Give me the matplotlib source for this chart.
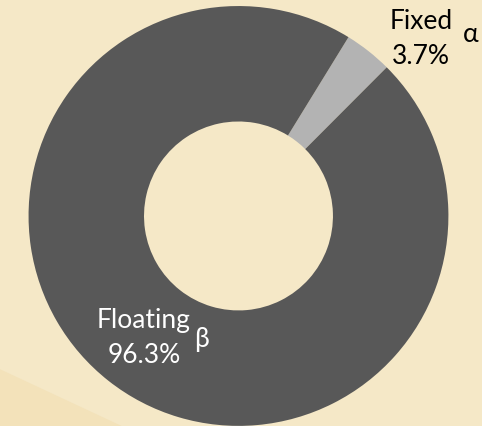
import matplotlib.pyplot as plt
from matplotlib.patches import Polygon

# data
labels = ['Fixed', 'Floating']
shares = [3.7, 96.3]
tags = ['α', 'β']
colors = ['#B3B3B3', '#585858']

bg = '#F5E8C7'

fig = plt.figure(figsize=(4.82, 4.27), dpi=100, facecolor=bg)
ax = fig.add_axes([0, 0, 1, 1])
ax.set_facecolor(bg)

# subtle darker band in lower-left corner of the slide background
ax.add_patch(Polygon([(-1.2, -0.70), (-0.45, -1.05), (-1.2, -1.05)],
                     closed=True, facecolor='#F3E2BA', edgecolor='none', zorder=0))

ax.pie(shares, colors=colors, startangle=58.4, counterclock=False,
       radius=1.0, wedgeprops=dict(width=0.55, edgecolor='none'))

ax.set_xlim(-1.136, 1.160)
ax.set_ylim(-1.0, 1.033)
ax.set_aspect('equal')
ax.axis('off')

font = 'Lato'
fs = 19
# Fixed label (outside, dark text)
ax.text(0.869, 0.929, labels[0], ha='center', va='center', fontsize=fs, family=font, color='black')
ax.text(0.869, 0.762, f'{shares[0]}%', ha='center', va='center', fontsize=fs, family=font, color='black')
ax.text(1.105, 0.870, tags[0], ha='center', va='center', fontsize=fs, family=font, color='black')

# Floating label (inside ring, white text)
ax.text(-0.45, -0.495, labels[1], ha='center', va='center', fontsize=fs, family=font, color='white')
ax.text(-0.45, -0.662, f'{shares[1]}%', ha='center', va='center', fontsize=fs, family=font, color='white')
ax.text(-0.176, -0.586, tags[1], ha='center', va='center', fontsize=fs, family=font, color='white')

fig.savefig('out.png', dpi=100, facecolor=bg)
